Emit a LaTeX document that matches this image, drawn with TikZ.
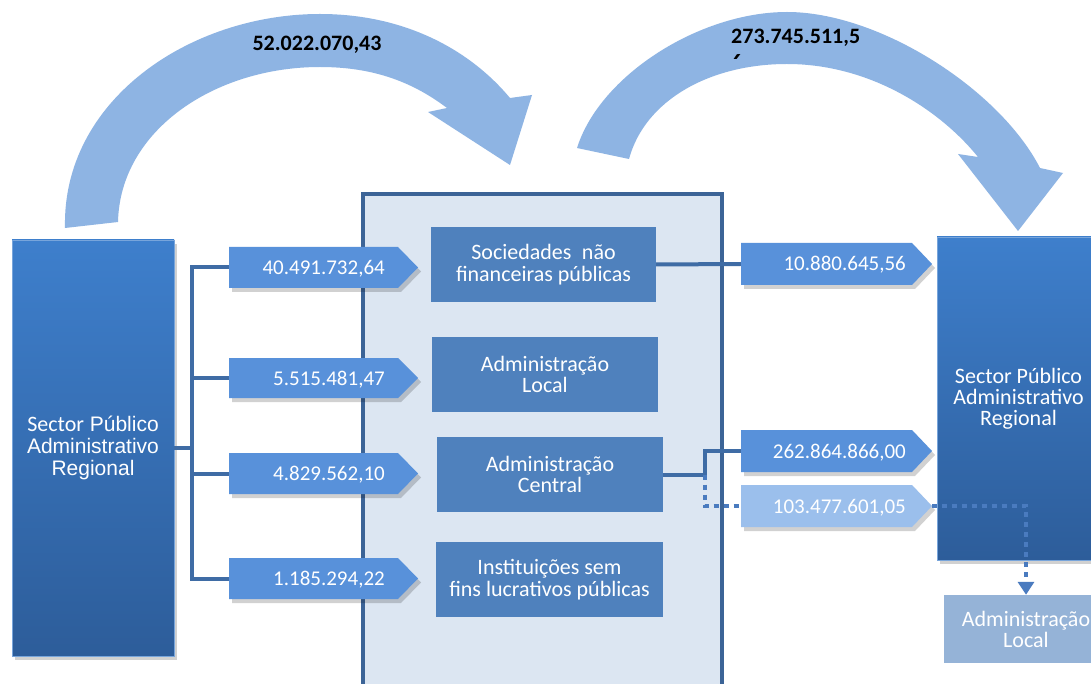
\documentclass[tikz,border=0pt]{standalone}
\usepackage{fontspec}
\setmainfont{Carlito}
\newfontfamily\arialf{Liberation Sans}
\newfontfamily\carl{Carlito}
\usetikzlibrary{arrows.meta,calc}
\definecolor{arcol}{HTML}{8EB4E3}
\definecolor{bigtop}{HTML}{3E7FCC}
\definecolor{bigbot}{HTML}{2D5D9A}
\definecolor{contfill}{HTML}{DCE6F2}
\definecolor{contline}{HTML}{3C6497}
\definecolor{innerc}{HTML}{4F81BD}
\definecolor{numc}{HTML}{5891DA}
\definecolor{numlight}{HTML}{9BBFEC}
\definecolor{alc}{HTML}{95B3D7}
\definecolor{connc}{HTML}{3F6CA5}
\definecolor{dotcol}{HTML}{4A7BBF}
\tikzset{
  bigbox/.style={inner sep=0pt, top color=bigtop, bottom color=bigbot, draw=bigtop!70!white, line width=0.6pt, text=white, align=center},
  innerbox/.style={inner sep=0pt, fill=innerc, text=white, align=center, font=\fontsize{22}{21.5}\selectfont},
  numtxt/.style={inner sep=0pt, text=white, font=\fontsize{21}{22}\selectfont},
  conn/.style={draw=connc, line width=4pt},
  dotc/.style={draw=dotcol, line width=4pt, dash pattern=on 5pt off 5pt},
  lbl/.style={inner sep=0pt, text=black, font=\bfseries\fontsize{22}{25}\selectfont},
  shadowcol/.style={fill=black, opacity=0.18}
}
\newcommand{\numarrow}[8]{%
  \fill[shadowcol] ({#2+3},{#3+4}) -- ({#4+3},{#3+4}) -- ({#4+23},{(#3+#5)/2+4}) -- ({#4+3},{#5+4}) -- ({#2+3},{#5+4}) -- cycle;
  \fill[#6] (#2,#3) -- (#4,#3) -- ({#4+20},{(#3+#5)/2}) -- (#4,#5) -- (#2,#5) -- cycle;
  \node[inner sep=0pt, minimum width={#4-#2}, minimum height={#5-#3}] (#1) at ({(#2+#4)/2},{(#3+#5)/2}) {};
  \coordinate (#1tip) at ({#4+20},{(#3+#5)/2});
  \node[numtxt, anchor=base east] (#1txt) at (#7,{(#3+#5)/2+7}) {#8};
}
\begin{document}
\begin{tikzpicture}[x=1pt,y=-1pt]
\useasboundingbox (0,0) rectangle (1091,684);
\clip (0,0) rectangle (1091,684);
\fill[white] (0,0) rectangle (1091,684);

% curved arrow 1
\fill[arcol] (65,228) .. controls (62,100) and (190,14) .. (320,14)
  .. controls (405,14) and (470,50) .. (510,98)
  -- (532,95) -- (510,165) -- (428,112) -- (447,108)
  .. controls (410,80) and (370,67) .. (320,67)
  .. controls (215,67) and (120,130) .. (118,222) -- cycle;
% curved arrow 2
\fill[arcol] (577,148) .. controls (600,75) and (700,12) .. (787,12)
  .. controls (880,12) and (1000,90) .. (1040,168)
  -- (1063,173) -- (1018,231) -- (958,154) -- (978,157)
  .. controls (940,110) and (870,64) .. (787,64)
  .. controls (710,64) and (645,100) .. (629,159) -- cycle;

\node[lbl, anchor=base] (lab1) at (317,51) {52.022.070,43};
\node[lbl, anchor=base west] (lab2) at (731,44) {273.745.511,5};
\begin{scope}
  \clip (700,40) rectangle (900,59);
  \node[lbl, anchor=base west] (lab2b) at (731,70) {6};
\end{scope}

% central container
\node[inner sep=0pt, fill=contfill, draw=contline, line width=4pt, minimum width=359, minimum height=520] (cont) at (542.5,454) {};

% inner boxes
\node[innerbox, minimum width=225, minimum height=75] (SA) at (543.5,264.5) {Sociedades\hspace{0.25em} não\\financeiras públicas};
\node[innerbox, minimum width=226, minimum height=75] (SB) at (545,374.5) {Administração\\Local};
\node[innerbox, minimum width=226, minimum height=75] (SC) at (550,474.5) {Administração\\Central};
\node[innerbox, minimum width=227, minimum height=75] (SD) at (549.5,579.5) {Instituições sem\\fins lucrativos públicas};

% left big box
\fill[shadowcol] (15,244) rectangle (177,660);
\node[bigbox, minimum width=162, minimum height=416, font=\arialf\fontsize{21}{22}\selectfont] (L) at (93,448)
  {{\carl\fontsize{22}{22}\selectfont Sector} Público\\Administrativo\\Regional};

% right big box
\fill[shadowcol] (940,241) rectangle (1104,564);
\node[bigbox, minimum width=163, minimum height=323, font=\fontsize{22}{21}\selectfont] (R) at (1018.5,398.5)
  {Sector Público\\Administrativo\\Regional};

% lower right box
\node[inner sep=0pt, fill=alc, text=white, align=center, minimum width=164, minimum height=68, font=\fontsize{22}{21}\selectfont] (AL) at (1026,629) {Administração\\Local};

% left number arrows
\numarrow{a1}{229}{247}{398}{288}{numc}{385}{40.491.732,64}
\numarrow{a2}{229}{358}{398}{398}{numc}{385}{5.515.481,47}
\numarrow{a3}{229}{453}{398}{494}{numc}{385}{4.829.562,10}
\numarrow{a4}{229}{558}{398}{599}{numc}{385}{1.185.294,22}

% right number arrows
\numarrow{r1}{741}{243}{912}{285}{numc}{906}{10.880.645,56}
\numarrow{r2}{741}{430}{912}{472}{numc}{906}{262.864.866,00}
\numarrow{r3}{741}{485}{912}{527}{numlight}{906}{103.477.601,05}

% left connectors
\coordinate (bus) at (192,448);
\draw[conn] (L.east) -- (bus);
\draw[conn] (a1.west) -| (bus);
\draw[conn] (a4.west) -| (bus);
\draw[conn] (a2.west) -- (a2.west -| bus);
\draw[conn] (a3.west) -- (a3.west -| bus);

% right connectors
\draw[conn] (SA.east) -- (r1.west);
\coordinate (jc) at (705,474.5);
\draw[conn] (SC.east) -- (jc) |- (r2.west);
\draw[dotc] (jc) |- (r3.west);
\draw[dotc, -{Triangle[width=16pt,length=13pt]}] (r3tip) -| (AL.north);
\end{tikzpicture}
\end{document}
